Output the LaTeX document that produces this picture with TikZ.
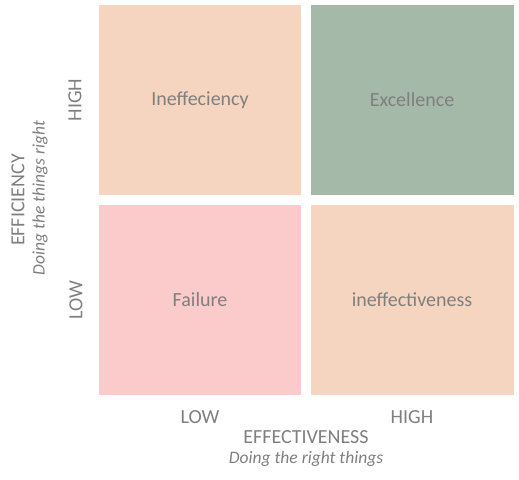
\documentclass[tikz,border=0pt]{standalone}
\usepackage{fontspec}
\setmainfont{Carlito}
\definecolor{peach}{HTML}{F5D5C0}
\definecolor{sage}{HTML}{A5B9A9}
\definecolor{pinkq}{HTML}{FBCBCB}
\definecolor{txt}{HTML}{7F7F7F}
\begin{document}
\begin{tikzpicture}[x=1bp,y=-1bp,
  qlabel/.style={text=txt, font=\fontsize{20bp}{24bp}\selectfont},
  axlabel/.style={text=txt, font=\fontsize{20bp}{24bp}\selectfont},
  sublabel/.style={text=txt, font=\fontsize{17.5bp}{21bp}\selectfont\itshape}]
\useasboundingbox (0,0) rectangle (519,480);
\fill[peach] (99,5) rectangle (301,195);
\fill[sage] (311,5) rectangle (514,195);
\fill[pinkq] (99,205) rectangle (301,395);
\fill[peach] (311,205) rectangle (514,395);
\node[qlabel] (ineff) at (200,100) {Ineffeciency};
\node[qlabel] (exc) at (412,100) {Excellence};
\node[qlabel] (fail) at (200,300) {Failure};
\node[qlabel] (ineffect) at (412,300) {ineffectiveness};
\node[axlabel, rotate=90] (yhigh) at (75,100) {HIGH};
\node[axlabel, rotate=90] (ylow) at (76,300) {LOW};
\node[axlabel, rotate=90] (yeff) at (18,200) {EFFICIENCY};
\node[sublabel, rotate=90] (ysub) at (40,198) {Doing the things right};
\node[axlabel] (xlow) at (200,417) {LOW};
\node[axlabel] (xhigh) at (412,417) {HIGH};
\node[axlabel] (xeff) at (306,437) {EFFECTIVENESS};
\node[sublabel] (xsub) at (306,459) {Doing the right things};
\end{tikzpicture}
\end{document}
